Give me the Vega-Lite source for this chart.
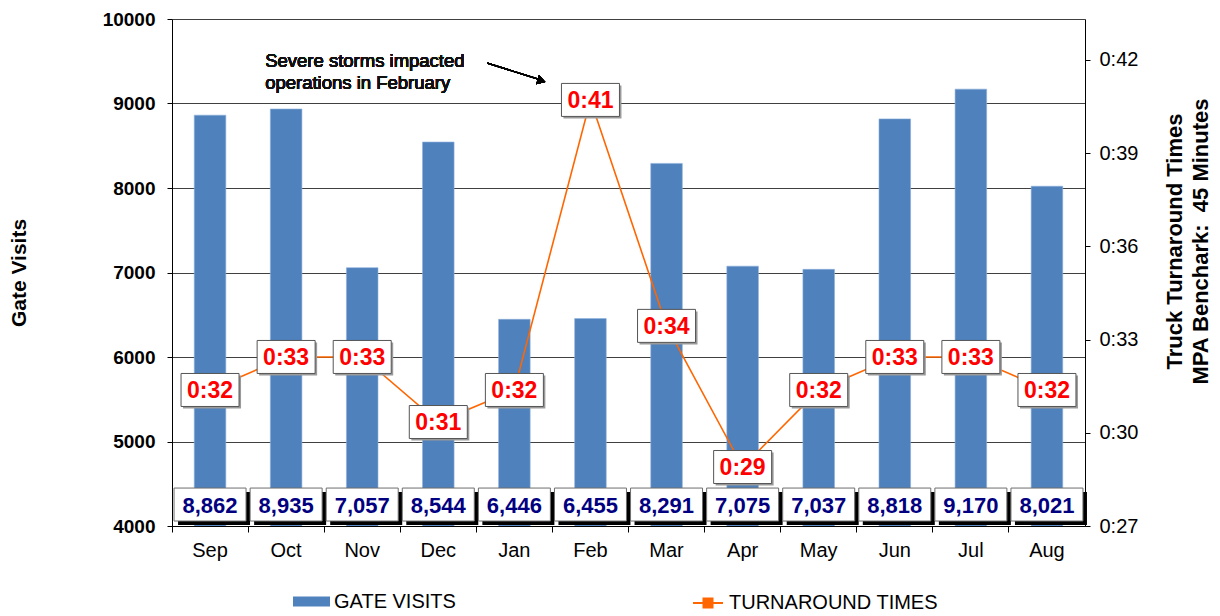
{
  "$schema": "https://vega.github.io/schema/vega-lite/v6.json",
  "width": 913,
  "height": 507,
  "autosize": {"type": "none"},
  "padding": {"left": 172, "top": 19, "right": 135, "bottom": 90},
  "background": "white",
  "config": {
    "view": {"stroke": null},
    "font": "Liberation Sans",
    "axis": {"domainColor": "#000", "tickColor": "#000", "labelColor": "#000", "titleColor": "#000", "labelFont": "Liberation Sans", "titleFont": "Liberation Sans"},
    "legend": {"labelFont": "Liberation Sans"}
  },
  "data": {
    "values": [
      {"i": 0, "month": "Sep", "gate": 8862, "minutes": 31.85, "label": "0:32"},
      {"i": 1, "month": "Oct", "gate": 8935, "minutes": 32.87, "label": "0:33"},
      {"i": 2, "month": "Nov", "gate": 7057, "minutes": 32.87, "label": "0:33"},
      {"i": 3, "month": "Dec", "gate": 8544, "minutes": 30.86, "label": "0:31"},
      {"i": 4, "month": "Jan", "gate": 6446, "minutes": 31.85, "label": "0:32"},
      {"i": 5, "month": "Feb", "gate": 6455, "minutes": 40.81, "label": "0:41"},
      {"i": 6, "month": "Mar", "gate": 8291, "minutes": 33.83, "label": "0:34"},
      {"i": 7, "month": "Apr", "gate": 7075, "minutes": 29.47, "label": "0:29"},
      {"i": 8, "month": "May", "gate": 7037, "minutes": 31.85, "label": "0:32"},
      {"i": 9, "month": "Jun", "gate": 8818, "minutes": 32.87, "label": "0:33"},
      {"i": 10, "month": "Jul", "gate": 9170, "minutes": 32.87, "label": "0:33"},
      {"i": 11, "month": "Aug", "gate": 8021, "minutes": 31.85, "label": "0:32"}
    ]
  },
  "layer": [
    {
      "layer": [
        {
          "mark": {"type": "bar", "width": {"band": 0.415}, "stroke": "#8DB0DB", "strokeWidth": 0.6, "clip": true},
          "encoding": {
            "x": {
              "field": "month", "type": "nominal",
              "scale": {"domain": ["Sep","Oct","Nov","Dec","Jan","Feb","Mar","Apr","May","Jun","Jul","Aug"], "paddingInner": 0, "paddingOuter": 0},
              "axis": {"title": null, "bandPosition": 0, "labelAngle": 0, "labelFontSize": 20, "labelPadding": 8, "tickSize": 6, "domainWidth": 1, "ticks": true, "grid": false}
            },
            "y": {
              "field": "gate", "type": "quantitative",
              "scale": {"domain": [4000, 10000], "nice": false, "zero": false},
              "axis": {"title": "Gate Visits", "values": [4000,5000,6000,7000,8000,9000,10000], "format": "d", "labelFontSize": 19, "labelFontWeight": "bold", "tickSize": 5, "labelPadding": 12, "grid": true, "gridColor": "#404040", "gridWidth": 1, "titleFontSize": 21, "titleFontWeight": "bold", "titlePadding": 73, "titleAngle": 270}
            },
            "y2": {"datum": 4000},
            "fill": {
              "datum": "GATE VISITS",
              "scale": {"range": ["#4F81BD"]},
              "legend": {"orient": "none", "legendX": 121, "legendY": 564, "title": null, "padding": 0, "symbolType": "M-1,-0.27H1V0.27H-1Z", "symbolSize": 1369, "symbolStrokeWidth": 0, "labelFontSize": 20, "labelColor": "#000", "labelOffset": 4, "labelLimit": 400}
            }
          }
        },
        {
          "mark": {"type": "point", "shape": "M-1,-0.458H1V0.458H-1Z", "size": 5184, "filled": true, "fill": "#000", "opacity": 1, "xOffset": 4, "yOffset": 4},
          "encoding": {
            "x": {"field": "month", "type": "nominal"},
            "y": {"datum": 4254, "type": "quantitative"}
          }
        },
        {
          "mark": {"type": "point", "shape": "M-1,-0.458H1V0.458H-1Z", "size": 5184, "filled": true, "fill": "#fff", "stroke": "#6d6d6d", "strokeWidth": 1, "opacity": 1},
          "encoding": {
            "x": {"field": "month", "type": "nominal"},
            "y": {"datum": 4254, "type": "quantitative"}
          }
        },
        {
          "mark": {"type": "text", "fontSize": 22, "fontWeight": "bold", "color": "#000080", "baseline": "middle", "dy": 1},
          "encoding": {
            "x": {"field": "month", "type": "nominal"},
            "y": {"datum": 4254, "type": "quantitative"},
            "text": {"field": "gate", "type": "quantitative", "format": ","}
          }
        }
      ]
    },
    {
      "layer": [
        {
          "mark": {"type": "line", "strokeWidth": 1.6},
          "encoding": {
            "x": {"field": "month", "type": "nominal"},
            "y": {
              "field": "minutes", "type": "quantitative",
              "scale": {"domain": [27.648, 43.31], "nice": false, "zero": false},
              "axis": {"orient": "right", "values": [27.648, 30.528, 33.408, 36.288, 39.168, 42.048], "labelExpr": "'0:' + floor(datum.value)", "labelFontSize": 20, "tickSize": 5, "labelPadding": 9, "grid": false, "title": ["Truck Turnaround Times", "MPA Benchark: \u00a045 Minutes"], "titleAngle": 270, "titleFontSize": 22, "titleFontWeight": "bold", "titlePadding": 23, "titleLineHeight": 26, "titleY": 222}
            },
            "order": {"field": "i", "type": "quantitative"},
            "stroke": {
              "datum": "TURNAROUND TIMES",
              "scale": {"range": ["#FF6600"]},
              "legend": {"orient": "none", "legendX": 520, "legendY": 568, "title": null, "padding": 0, "symbolType": "M-1,0H-0.3M0.3,0H1M-0.3,-0.3H0.3V0.3H-0.3Z", "symbolSize": 900, "symbolStrokeWidth": 2, "labelFontSize": 20, "labelColor": "#000", "labelOffset": 5, "labelLimit": 400, "encode": {"symbols": {"update": {"fill": {"value": "#FF6600"}}}}}
            }
          }
        },
        {
          "mark": {"type": "point", "shape": "M-1,-0.569H1V0.569H-1Z", "size": 3364, "filled": true, "fill": "#9a9a9a", "opacity": 1, "xOffset": 2, "yOffset": 2},
          "encoding": {
            "x": {"field": "month", "type": "nominal"},
            "y": {"field": "minutes", "type": "quantitative"}
          }
        },
        {
          "mark": {"type": "point", "shape": "M-1,-0.569H1V0.569H-1Z", "size": 3364, "filled": true, "fill": "#fff", "stroke": "#555", "strokeWidth": 1, "opacity": 1},
          "encoding": {
            "x": {"field": "month", "type": "nominal"},
            "y": {"field": "minutes", "type": "quantitative"}
          }
        },
        {
          "mark": {"type": "text", "fontSize": 23, "fontWeight": "bold", "color": "#FF0000", "baseline": "middle", "dy": 1},
          "encoding": {
            "x": {"field": "month", "type": "nominal"},
            "y": {"field": "minutes", "type": "quantitative"},
            "text": {"field": "label", "type": "nominal"}
          }
        },
        {
          "mark": {"type": "text", "text": "Severe storms impacted\noperations in February", "lineBreak": "\n", "fontSize": 18.5, "lineHeight": 22, "align": "left", "baseline": "middle", "color": "#111", "xOffset": -21},
          "encoding": {
            "x": {"datum": "Oct", "type": "nominal"},
            "y": {"datum": 42.01, "type": "quantitative"}
          }
        },
        {
          "mark": {"type": "rule", "color": "#000", "strokeWidth": 1.3, "xOffset": -27, "x2Offset": -49},
          "encoding": {
            "x": {"datum": "Jan", "type": "nominal"},
            "x2": {"datum": "Feb"},
            "y": {"datum": 41.95, "type": "quantitative"},
            "y2": {"datum": 41.42}
          }
        },
        {
          "mark": {"type": "point", "shape": "triangle-right", "size": 90, "angle": 17, "filled": true, "fill": "#000", "opacity": 1, "xOffset": -49},
          "encoding": {
            "x": {"datum": "Feb", "type": "nominal"},
            "y": {"datum": 41.40, "type": "quantitative"}
          }
        }
      ]
    }
  ],
  "resolve": {"scale": {"y": "independent"}}
}
